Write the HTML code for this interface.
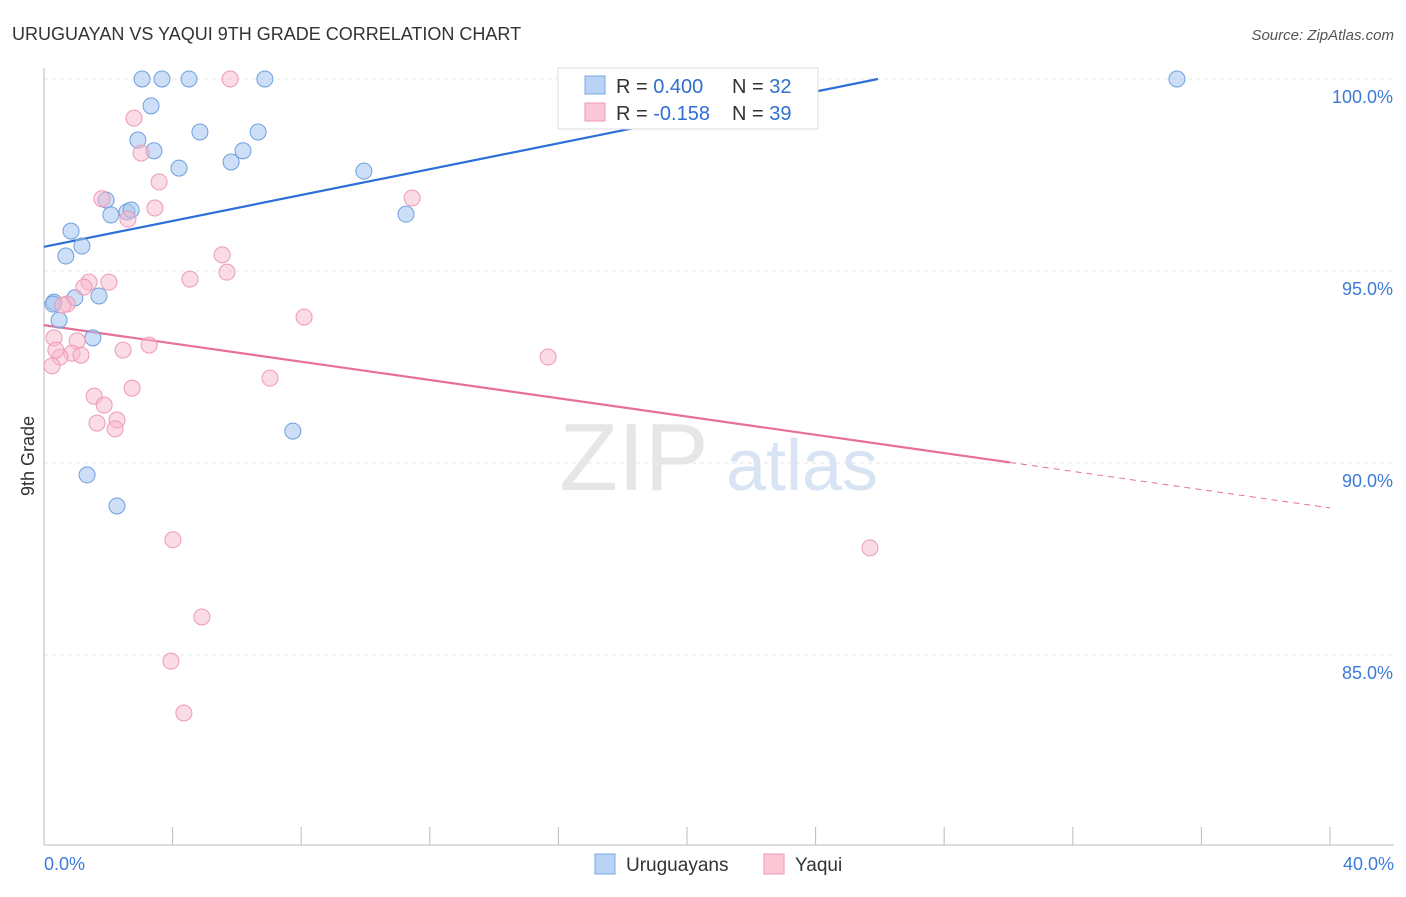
<!DOCTYPE html>
<html><head><meta charset="utf-8">
<style>
body{margin:0;background:#fff;font-family:"Liberation Sans",sans-serif;}
svg text{font-family:"Liberation Sans",sans-serif;}
</style></head>
<body>
<svg id="chart" width="1406" height="892" xmlns="http://www.w3.org/2000/svg">
<text x="12" y="40" font-size="18" fill="#333">URUGUAYAN VS YAQUI 9TH GRADE CORRELATION CHART</text>
<text x="1394" y="40" font-size="15" fill="#555" font-style="italic" text-anchor="end">Source: ZipAtlas.com</text>
<text x="634" y="490" font-size="96" fill="#e6e6e6" font-family="Liberation Serif" text-anchor="middle">ZIP</text>
<text x="802" y="490" font-size="72" fill="#d8e4f4" text-anchor="middle">atlas</text>
<g id="grid"></g>
<g id="axes"></g>
<g id="lines"></g>
<g id="points"></g>
<text transform="translate(34,456) rotate(-90)" font-size="18" fill="#333" text-anchor="middle">9th Grade</text>
<g>
<rect x="558" y="68" width="260" height="61" fill="#fff" stroke="#ddd"/>
<rect x="585" y="76" width="20" height="18" fill="#b8d3f5" stroke="#7aa8e0"/>
<rect x="585" y="103" width="20" height="18" fill="#fbc7d6" stroke="#ee98b3"/>
<text x="616" y="93" font-size="20" fill="#333">R = <tspan fill="#2f6fd1">0.400</tspan></text>
<text x="732" y="93" font-size="20" fill="#333">N = <tspan fill="#2f6fd1">32</tspan></text>
<text x="616" y="120" font-size="20" fill="#333">R = <tspan fill="#2f6fd1">-0.158</tspan></text>
<text x="732" y="120" font-size="20" fill="#333">N = <tspan fill="#2f6fd1">39</tspan></text>
</g>
<g>
<rect x="595" y="854" width="20" height="20" fill="#b8d3f5" stroke="#7aa8e0"/>
<text x="626" y="871" font-size="19" fill="#333">Uruguayans</text>
<rect x="764" y="854" width="20" height="20" fill="#fbc7d6" stroke="#ee98b3"/>
<text x="795" y="871" font-size="19" fill="#333">Yaqui</text>
</g>
</svg>
<script>
const blueX=[3.05,3.67,4.51,6.87,23.58,35.24,3.33,2.92,4.85,6.66,3.42,6.19,5.82,4.20,9.95,1.93,2.08,2.58,2.71,11.26,0.84,1.18,0.68,0.31,0.28,0.96,1.71,0.47,1.52,7.74,1.34,2.27];
const blueY=[100,100,100,100,100,100,99.30,98.41,98.62,98.62,98.13,98.13,97.84,97.68,97.60,96.85,96.46,96.54,96.59,96.48,96.04,95.65,95.39,94.19,94.14,94.30,94.35,93.72,93.26,90.83,89.69,88.88];
const pinkX=[5.79,2.80,3.02,3.58,1.80,3.45,2.61,11.45,5.54,5.69,4.54,1.40,2.02,1.24,0.72,0.59,8.09,0.31,1.03,3.27,2.46,0.87,1.15,0.50,0.25,15.68,2.74,1.56,1.87,2.27,1.65,2.21,7.03,4.01,25.69,4.91,3.95,4.35,0.37];
const pinkY=[100,98.98,98.07,97.32,96.88,96.64,96.35,96.90,95.42,94.97,94.79,94.71,94.71,94.58,94.14,94.11,93.80,93.26,93.18,93.07,92.94,92.86,92.81,92.76,92.53,92.76,91.95,91.74,91.51,91.12,91.04,90.89,92.21,88.0,87.79,85.99,84.84,83.49,92.94];
const yTicks=[100,95,90,85];
const xTickLabels=["0.0%","40.0%"];
const blueTrend=[95.63,100,0,25.94];
const pinkTrend=[93.59,88.83,30.05];
const NS="http://www.w3.org/2000/svg";
const xs=v=>44+v*32.15;
const ys=v=>79+(100-v)*38.4;
function mk(tag,attrs,parent){const e=document.createElementNS(NS,tag);for(const k in attrs)e.setAttribute(k,attrs[k]);document.getElementById(parent).appendChild(e);return e;}
yTicks.forEach(t=>{
 const l=mk('line',{x1:44,x2:1394,y1:ys(t),y2:ys(t),stroke:'#e4e4e4','stroke-dasharray':'4,4'},'grid');
 
 
 const tx=mk('text',{x:1393,y:ys(t)+24,'font-size':18,fill:'#3d7bd9','text-anchor':'end'},'grid');
 tx.textContent=t.toFixed(1)+'%';
 
 
});
const ax=mk('line',{x1:44,x2:1394,y1:845,y2:845,stroke:'#bbb'},'axes');


const ay=mk('line',{x1:44,x2:44,y1:68,y2:845,stroke:'#bbb'},'axes');


for(let i=0;i<=10;i++){
 const t=mk('line',{x1:xs(i*4),x2:xs(i*4),y1:827,y2:845,stroke:'#bbb'},'axes');
 
 
}
[[0,'start',44],[40,'end',1394]].forEach((d,i)=>{
 const tx=mk('text',{x:d[2],y:870,'font-size':18,fill:'#3d7bd9','text-anchor':d[1]},'axes');
 tx.textContent=xTickLabels[i];
 
 
});
const bl=mk('line',{x1:xs(blueTrend[2]),y1:ys(blueTrend[0]),x2:xs(blueTrend[3]),y2:ys(blueTrend[1]),stroke:'#2d6fd6','stroke-width':2.2},'lines');


const slope=(pinkTrend[1]-pinkTrend[0])/40;
const pl=mk('line',{x1:xs(0),y1:ys(pinkTrend[0]),x2:xs(pinkTrend[2]),y2:ys(pinkTrend[0]+slope*pinkTrend[2]),stroke:'#e86f98','stroke-width':2.2},'lines');


const pd=mk('line',{x1:xs(pinkTrend[2]),y1:ys(pinkTrend[0]+slope*pinkTrend[2]),x2:xs(40),y2:ys(pinkTrend[1]),stroke:'#e86f98','stroke-width':1,'stroke-dasharray':'6,5'},'lines');


blueX.forEach((x,i)=>{
 const c=mk('circle',{cx:xs(x),cy:ys(blueY[i]),r:8,fill:'rgba(164,196,240,0.55)',stroke:'#6f9fde','stroke-width':1},'points');
 
 
});
pinkX.forEach((x,i)=>{
 const c=mk('circle',{cx:xs(x),cy:ys(pinkY[i]),r:8,fill:'rgba(248,184,204,0.5)',stroke:'#ee9ab5','stroke-width':1},'points');
 
 
});
</script>
</body></html>
